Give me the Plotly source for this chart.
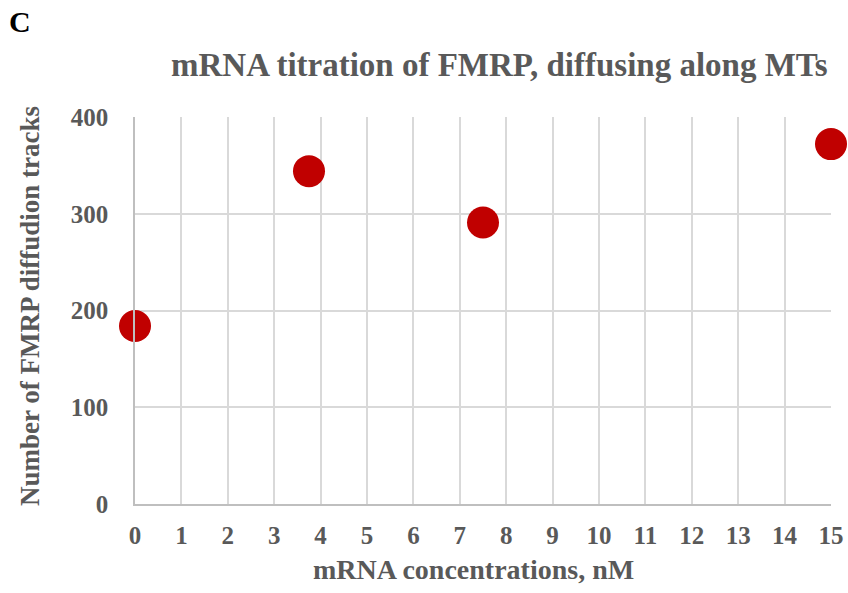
import plotly.graph_objects as go

# mRNA concentration (nM) and number of FMRP diffusion tracks
concentrations_nM = [0, 3.75, 7.5, 15]
track_counts = [184, 344, 291, 372]

x_ticks = list(range(0, 16))
y_ticks = [0, 100, 200, 300, 400]

TEXT = "#595959"
FONT = "Liberation Serif"

# plot area in pixels
L, R, T, B = 135, 17, 117, 89
W, H = 848, 593
PW, PH = W - L - R, H - T - B

fig = go.Figure()
fig.add_trace(go.Scatter(
    x=concentrations_nM,
    y=track_counts,
    mode="markers",
    marker=dict(color="#c00000", size=32, line=dict(width=0)),
    cliponaxis=False,
    showlegend=False,
))

axis_common = dict(
    tickfont=dict(family=FONT, size=25, color=TEXT),
    showgrid=True, gridcolor="#d9d9d9", gridwidth=1.5,
    showline=True, linecolor="#bfbfbf", linewidth=1.5,
    zeroline=False, ticks="", automargin=False,
)

fig.update_layout(
    width=W,
    height=H,
    paper_bgcolor="white",
    plot_bgcolor="white",
    margin=dict(l=L, r=R, t=T, b=B),
    xaxis=dict(
        range=[0, 15],
        tickvals=x_ticks,
        ticktext=[f"<b>{v}</b>" for v in x_ticks],
        ticklabelstandoff=8,
        **axis_common,
    ),
    yaxis=dict(
        range=[0, 400],
        tickvals=y_ticks,
        ticktext=[f"<b>{v}</b>" for v in y_ticks],
        ticklabelstandoff=20,
        **axis_common,
    ),
    annotations=[
        dict(text="<b>mRNA titration of FMRP, diffusing along MTs</b>",
             xref="paper", yref="paper",
             x=(499 - L) / PW, y=1 + (T - 65) / PH,
             xanchor="center", yanchor="middle", showarrow=False,
             font=dict(family=FONT, size=33, color=TEXT)),
        dict(text="<b>mRNA concentrations, nM</b>",
             xref="paper", yref="paper",
             x=(473 - L) / PW, y=-(569 - (H - B)) / PH,
             xanchor="center", yanchor="middle", showarrow=False,
             font=dict(family=FONT, size=28, color=TEXT)),
        dict(text="<b>Number of FMRP diffudion tracks</b>",
             xref="paper", yref="paper",
             x=-(L - 30) / PW, y=(H - B - 306) / PH,
             xanchor="center", yanchor="middle", showarrow=False,
             textangle=-90,
             font=dict(family=FONT, size=27, color=TEXT)),
        dict(text="<b>C</b>", xref="paper", yref="paper",
             x=-(L - 7) / PW, y=1 + (T - 21) / PH,
             xanchor="left", yanchor="middle", showarrow=False,
             font=dict(family=FONT, size=30, color="black")),
    ],
)

fig.write_html("out.html")
